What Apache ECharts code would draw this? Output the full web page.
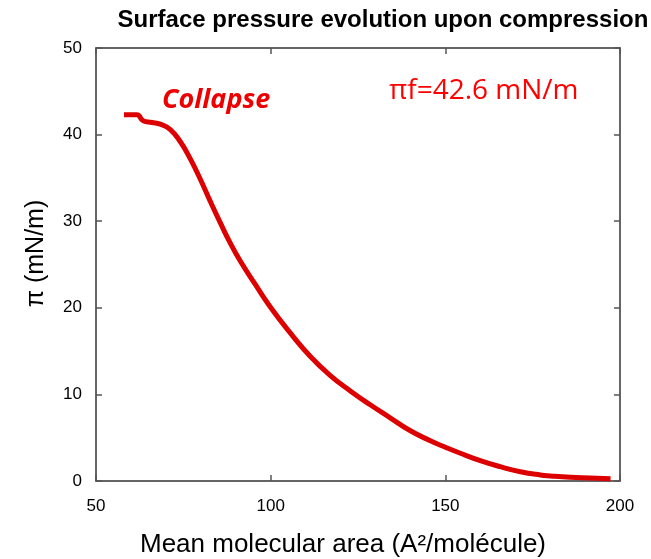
<!DOCTYPE html>
<html>
<head>
<meta charset="utf-8">
<script src="https://cdn.jsdelivr.net/npm/echarts@6/dist/echarts.min.js"></script>
<style>
  html, body { margin: 0; padding: 0; background: #fff; }
  #chart { width: 651px; height: 559px; }
</style>
</head>
<body>
<div id="chart"></div>
<script>
// mean molecular area (A²/molecule) vs surface pressure (mN/m)
const area = [58.0, 61.7, 63.5, 66.0, 68.4, 71.2, 74.1, 77.0, 79.8, 82.7, 85.6, 88.4, 91.3,
  95.6, 99.9, 105.6, 111.3, 117.0, 122.8, 128.5, 134.2, 140.0, 145.7, 150.0, 154.3,
  160.0, 165.7, 171.5, 177.2, 180.1, 185.8, 191.5, 197.3];
const pressure = [42.3, 42.3, 41.6, 41.4, 41.2, 40.6, 39.2, 37.2, 34.9, 32.3, 29.8, 27.5, 25.4,
  22.7, 20.1, 17.1, 14.4, 12.2, 10.4, 8.8, 7.3, 5.8, 4.65, 3.9, 3.2,
  2.35, 1.65, 1.07, 0.69, 0.58, 0.43, 0.35, 0.27];
const xTicks = [50, 100, 150, 200];
const yTicks = [0, 10, 20, 30, 40, 50];

const chart = echarts.init(document.getElementById('chart'));
const font = 'Liberation Sans, Arial, sans-serif';
const frame = { show: true, onZero: false, lineStyle: { color: '#333', width: 1.5 } };
const tick = { show: true, inside: true, length: 6, lineStyle: { color: '#555', width: 1.5 } };

chart.setOption({
  backgroundColor: '#fff',
  animation: false,
  title: {
    text: 'Surface pressure evolution upon compression',
    left: 378, top: 3, textAlign: 'center',
    textStyle: { fontFamily: font, fontSize: 24, fontWeight: 'bold', color: '#000' }
  },
  grid: { left: 96, right: 31, top: 48, bottom: 78, outerBoundsMode: 'none', containLabel: false },
  xAxis: [
    {
      type: 'value', min: xTicks[0], max: xTicks[xTicks.length - 1], interval: 50,
      axisLine: frame, axisTick: tick, splitLine: { show: false },
      axisLabel: { color: '#000', fontFamily: font, fontSize: 17, margin: 17 },
      name: 'Mean molecular area (A²/molécule)', nameLocation: 'middle', nameGap: 51,
      nameTextStyle: { color: '#000', fontFamily: font, fontSize: 26, padding: [0, 30, 0, 0] }
    },
    {
      type: 'value', position: 'top', min: xTicks[0], max: xTicks[xTicks.length - 1], interval: 50,
      axisLine: frame, axisTick: tick, axisLabel: { show: false }, splitLine: { show: false }
    }
  ],
  yAxis: [
    {
      type: 'value', min: yTicks[0], max: yTicks[yTicks.length - 1], interval: 10,
      axisLine: frame, axisTick: tick, splitLine: { show: false },
      axisLabel: { color: '#000', fontFamily: font, fontSize: 17, margin: 14 },
      name: 'π (mN/m)', nameLocation: 'middle', nameGap: 47, nameRotate: 90,
      nameTextStyle: { color: '#000', fontFamily: font, fontSize: 25, padding: [0, 0, 0, 22] }
    },
    {
      type: 'value', position: 'right', min: yTicks[0], max: yTicks[yTicks.length - 1], interval: 10,
      axisLine: frame, axisTick: tick, axisLabel: { show: false }, splitLine: { show: false }
    }
  ],
  series: [{
    type: 'line',
    data: area.map((a, i) => [a, pressure[i]]),
    smooth: 0.5,
    showSymbol: false,
    lineStyle: { color: '#dd0000', width: 5 }
  }],
  graphic: [
    {
      type: 'text', left: 162, top: 87,
      style: { text: 'Collapse', fill: '#ee0000', font: 'italic bold 27px "Open Sans", Lato, sans-serif' }
    },
    {
      type: 'text', left: 389, top: 77,
      style: { text: 'πf=42.6 mN/m', fill: '#ff0000', font: '28px "Open Sans", Lato, sans-serif' }
    }
  ]
});
</script>
</body>
</html>
